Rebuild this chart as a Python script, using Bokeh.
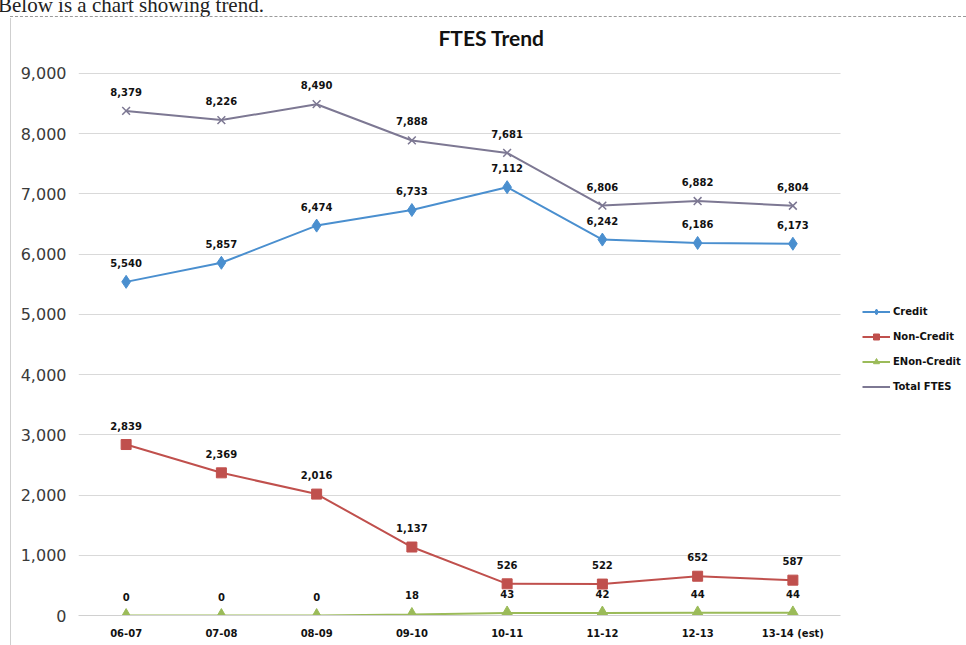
from bokeh.plotting import figure
from bokeh.models import (Legend, LegendItem, Label, FixedTicker, Div,
                          NumeralTickFormatter, Range1d)
from bokeh.layouts import column
from bokeh.core.properties import value
from bokeh.embed import file_html
from bokeh.resources import INLINE

years = ["06-07", "07-08", "08-09", "09-10", "10-11", "11-12", "12-13", "13-14 (est)"]
credit = [5540, 5857, 6474, 6733, 7112, 6242, 6186, 6173]
non_credit = [2839, 2369, 2016, 1137, 526, 522, 652, 587]
enon_credit = [0, 0, 0, 18, 43, 42, 44, 44]
total_ftes = [8379, 8226, 8490, 7888, 7681, 6806, 6882, 6804]
y_ticks = [0, 1000, 2000, 3000, 4000, 5000, 6000, 7000, 8000, 9000]

# category slots: each year sits in the middle of its slot
xs = [i + 0.5 for i in range(len(years))]

C_CREDIT = "#4a8fcf"
C_NON = "#c0504d"
C_ENON = "#9bbb59"
C_TOTAL = "#7d7893"

header = Div(
    text=('<div style="position:relative;width:966px;height:18px;overflow:hidden;">'
          '<div style="position:absolute;left:-2px;top:-10px;white-space:nowrap;'
          'font-family:\'Liberation Serif\';font-size:21px;color:#222;">'
          'Below is a chart showing trend.</div>'
          '<div style="position:absolute;left:10px;top:16px;width:956px;height:0;'
          'border-top:1px dashed #9a9a9a;"></div></div>'),
    width=966, height=18, margin=(0, 0, 0, 0),
    styles={"overflow": "hidden"})

p = figure(width=966, height=627, x_range=Range1d(0, 9.3228),
           y_range=Range1d(0, 9913), output_backend="svg", toolbar_location=None,
           min_border_left=78, min_border_right=0, min_border_top=0,
           min_border_bottom=30, margin=(0, 0, 0, 0),
           styles={"background-color": "white",
                   "background-image": "linear-gradient(#cfcfcf, #cfcfcf)",
                   "background-size": "1px 100%",
                   "background-position": "10px 0",
                   "background-repeat": "no-repeat"})
p.outline_line_color = None
p.background_fill_color = "white"
p.border_fill_alpha = 0
p.xgrid.grid_line_color = None
p.ygrid.grid_line_color = "#d9d9d9"
p.ygrid.grid_line_width = 1
p.ygrid.cross_bounds = (0, len(years))

p.yaxis.ticker = FixedTicker(ticks=y_ticks)
p.yaxis.formatter = NumeralTickFormatter(format="0,0")
p.yaxis.axis_line_color = None
p.yaxis.major_tick_line_color = None
p.yaxis.minor_tick_line_color = None
p.yaxis.major_tick_out = 0
p.yaxis.major_label_standoff = 12
p.yaxis.major_label_text_font = "DejaVu Sans"
p.yaxis.major_label_text_font_size = "16px"
p.yaxis.major_label_text_color = "#3a3a3a"

p.xaxis.ticker = FixedTicker(ticks=xs)
p.xaxis.major_label_overrides = {x: y for x, y in zip(xs, years)}
p.xaxis.bounds = (0, len(years))
p.xaxis.axis_line_color = "#d0d0d0"
p.xaxis.major_tick_line_color = None
p.xaxis.minor_tick_line_color = None
p.xaxis.major_tick_out = 0
p.xaxis.major_label_standoff = 12
p.xaxis.major_label_text_font = "DejaVu Sans"
p.xaxis.major_label_text_font_style = "bold"
p.xaxis.major_label_text_font_size = "10px"
p.xaxis.major_label_text_color = "#111111"

series = [
    ("Credit", credit, C_CREDIT, "diamond", 13),
    ("Non-Credit", non_credit, C_NON, "square", 10),
    ("ENon-Credit", enon_credit, C_ENON, "triangle", 12),
    ("Total FTES", total_ftes, C_TOTAL, "x", 11),
]

items = []
for name, vals, col, marker, size in series:
    ln = p.line(xs, vals, line_color=col, line_width=2)
    sc = p.scatter(xs, vals, marker=marker, size=size, fill_color=col,
                   line_color=col, line_width=1.5 if marker == "x" else 1)
    labels = [f"{v:,}" for v in vals]
    p.text(xs, vals, text=labels, y_offset=-19, text_align="center",
           text_baseline="middle", text_font=value("DejaVu Sans"),
           text_font_style="bold", text_font_size="10px", text_color="#111111")
    if name == "Total FTES":
        items.append(LegendItem(label=name, renderers=[ln]))
    else:
        items.append(LegendItem(label=name, renderers=[ln, sc]))

legend = Legend(items=items, location=(784, 221), orientation="vertical",
                padding=0, margin=0, spacing=10, glyph_width=28, glyph_height=15,
                label_height=15, label_standoff=3,
                label_text_font="DejaVu Sans", label_text_font_style="bold",
                label_text_font_size="10px", label_text_color="#111111",
                border_line_color=None, background_fill_alpha=0)
p.add_layout(legend, "center")

title = Label(x=4.336, y=9598, text="FTES Trend",
              text_font="Lato", text_font_style="bold", text_font_size="21px",
              text_align="center", text_baseline="middle", text_color="#111111")
p.add_layout(title)

layout = column(header, p, spacing=0, margin=(0, 0, 0, 0))
open("out.html", "w").write(file_html(layout, INLINE))
